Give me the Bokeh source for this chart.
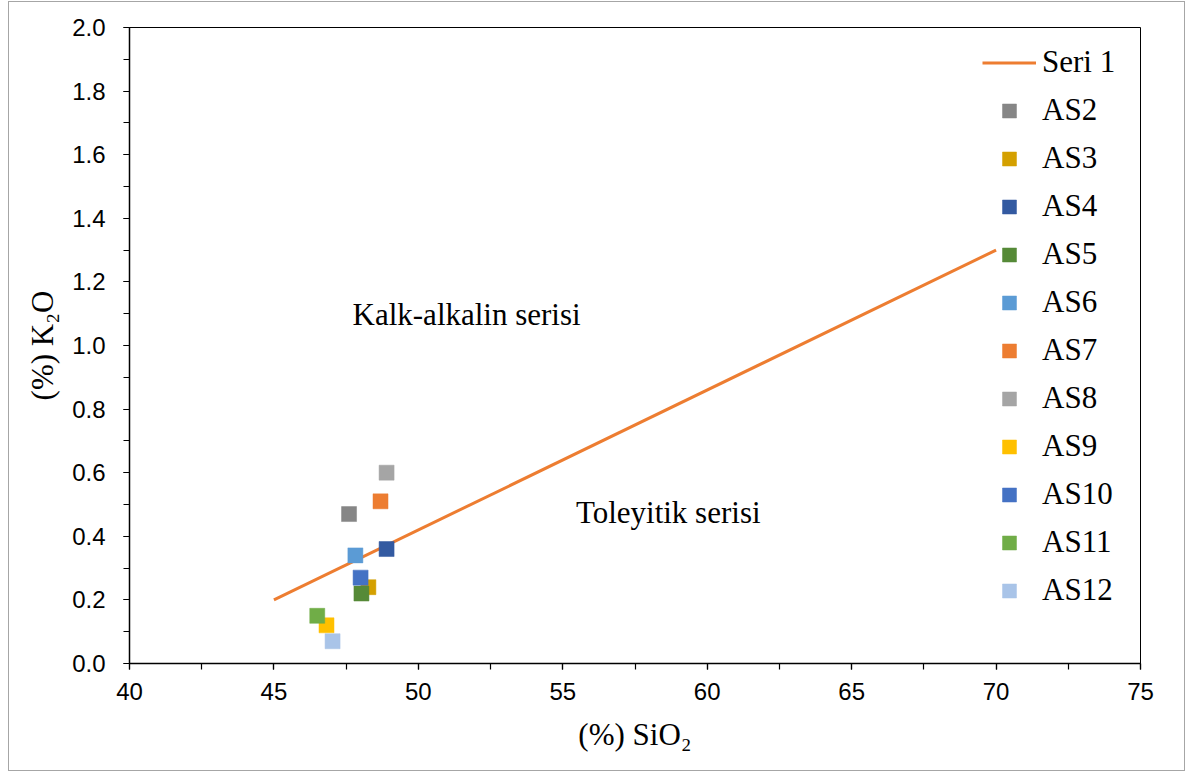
from bokeh.plotting import figure
from bokeh.models import SingleIntervalTicker, NumeralTickFormatter, Range1d, Legend, LegendItem, ColumnDataSource
from bokeh.core.properties import value
from bokeh.embed import file_html
from bokeh.resources import INLINE

# Data
samples = ["AS2", "AS3", "AS4", "AS5", "AS6", "AS7", "AS8", "AS9", "AS10", "AS11", "AS12"]
sio2 = [47.6, 48.27, 48.9, 48.03, 47.82, 48.69, 48.9, 46.82, 48.0, 46.5, 47.03]
k2o = [0.47, 0.24, 0.36, 0.22, 0.34, 0.51, 0.60, 0.12, 0.27, 0.15, 0.07]
colors = ["#868686", "#D4A000", "#335AA1", "#568A37", "#5B9BD5", "#ED7D31",
          "#A5A5A5", "#FFC000", "#4472C4", "#70AD47", "#A9C4E8"]
seri1_x = [45, 70]
seri1_y = [0.2, 1.3]
region_labels = ["Kalk-alkalin serisi", "Toleyitik serisi"]
region_x = [51.67, 58.65]
region_y = [1.098, 0.475]

p = figure(width=1177, height=770, output_backend="svg", toolbar_location=None,
           x_range=Range1d(40, 75), y_range=Range1d(0, 2.0),
           min_border_left=120, min_border_right=46, min_border_top=25, min_border_bottom=109)
p.styles = {"border": "1px solid #a6a6a6", "margin-left": "8px", "margin-top": "1px"}
p.grid.visible = False
p.outline_line_color = "black"
p.outline_line_width = 1
p.background_fill_color = "white"
p.border_fill_color = "white"

p.xaxis.ticker = SingleIntervalTicker(interval=5, num_minor_ticks=2)
p.yaxis.ticker = SingleIntervalTicker(interval=0.2, num_minor_ticks=2)
p.yaxis.formatter = NumeralTickFormatter(format="0.0")
for ax in (p.xaxis, p.yaxis):
    ax.axis_line_color = "black"
    ax.axis_line_width = 1.5
    ax.major_tick_line_color = "black"
    ax.minor_tick_line_color = "black"
    ax.major_tick_line_width = 1.2
    ax.minor_tick_line_width = 1.2
    ax.major_tick_out = 6
    ax.major_tick_in = 0
    ax.minor_tick_out = 6
    ax.minor_tick_in = 0
    ax.major_label_text_font = "Liberation Sans"
    ax.major_label_text_font_size = "24px"
    ax.major_label_text_color = "black"
    ax.axis_label_text_font = "Liberation Serif"
    ax.axis_label_text_font_size = "31px"
    ax.axis_label_text_font_style = "normal"
    ax.axis_label_text_color = "black"
p.xaxis.axis_label = "(%) SiO\u2082"
p.yaxis.axis_label = "(%) K\u2082O"
p.xaxis.major_label_standoff = 13
p.yaxis.major_label_standoff = 18
p.xaxis.axis_label_standoff = 14
p.yaxis.axis_label_standoff = 9

line_r = p.line(seri1_x, seri1_y, line_color="#ED7D31", line_width=3)

items = [LegendItem(label="Seri 1", renderers=[line_r])]
for name, x, y, c in zip(samples, sio2, k2o, colors):
    src = ColumnDataSource(dict(x=[x], y=[y]))
    r = p.scatter("x", "y", source=src, marker="square", size=15, fill_color=c,
                  line_color=c, line_alpha=0.5)
    items.append(LegendItem(label=name, renderers=[r]))

p.text(x=region_x, y=region_y, text=region_labels, text_font=value("Liberation Serif"),
       text_font_size="31px", text_color="black", text_align="center", text_baseline="middle")

legend = Legend(items=items, location=(853, 55))
legend.label_text_font = "Liberation Serif"
legend.label_text_font_size = "31px"
legend.label_text_color = "black"
legend.border_line_color = None
legend.background_fill_alpha = 0
legend.glyph_width = 54
legend.glyph_height = 35
legend.label_height = 35
legend.spacing = 12
legend.padding = 0
legend.margin = 0
legend.label_standoff = 6
p.add_layout(legend)

open("out.html", "w").write(file_html(p, INLINE))
